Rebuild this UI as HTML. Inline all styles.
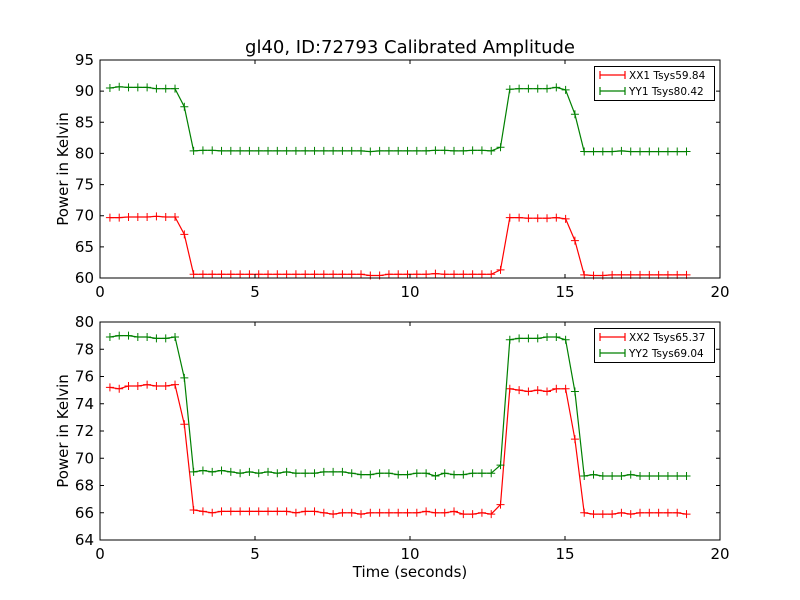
<!DOCTYPE html>
<html><head><meta charset="utf-8"><style>body{margin:0;background:#fff}svg{display:block;font-family:"DejaVu Sans","Liberation Sans",sans-serif}</style></head>
<body>
<svg id="c" width="800" height="600"></svg>
<script>
const xx1 = [69.7,69.7,69.8,69.8,69.8,69.9,69.8,69.8,67.0,60.6,60.6,60.6,60.6,60.6,60.6,60.6,60.6,60.6,60.6,60.6,60.6,60.6,60.6,60.6,60.6,60.6,60.6,60.6,60.4,60.4,60.6,60.6,60.6,60.6,60.6,60.7,60.6,60.6,60.6,60.6,60.6,60.6,61.3,69.7,69.7,69.6,69.6,69.6,69.7,69.5,66.0,60.5,60.4,60.4,60.5,60.5,60.5,60.5,60.5,60.5,60.5,60.5,60.5];
const yy1 = [90.5,90.7,90.6,90.6,90.6,90.4,90.4,90.4,87.5,80.4,80.5,80.5,80.4,80.4,80.4,80.4,80.4,80.4,80.4,80.4,80.4,80.4,80.4,80.4,80.4,80.4,80.4,80.4,80.3,80.4,80.4,80.4,80.4,80.4,80.4,80.5,80.5,80.4,80.4,80.5,80.5,80.4,81.0,90.3,90.4,90.4,90.4,90.4,90.6,90.2,86.3,80.3,80.3,80.3,80.3,80.4,80.3,80.3,80.3,80.3,80.3,80.3,80.3];
const xx2 = [75.2,75.1,75.3,75.3,75.4,75.3,75.3,75.4,72.5,66.2,66.1,66.0,66.1,66.1,66.1,66.1,66.1,66.1,66.1,66.1,66.0,66.1,66.1,66.0,65.9,66.0,66.0,65.9,66.0,66.0,66.0,66.0,66.0,66.0,66.1,66.0,66.0,66.1,65.9,65.9,66.0,65.9,66.6,75.1,75.0,74.9,75.0,74.9,75.1,75.1,71.4,66.0,65.9,65.9,65.9,66.0,65.9,66.0,66.0,66.0,66.0,66.0,65.9];
const yy2 = [78.9,79.0,79.0,78.9,78.9,78.8,78.8,78.9,75.9,69.0,69.1,69.0,69.1,69.0,68.9,69.0,68.9,69.0,68.9,69.0,68.9,68.9,68.9,69.0,69.0,69.0,68.9,68.8,68.8,68.9,68.9,68.8,68.8,68.9,68.9,68.7,68.9,68.8,68.8,68.9,68.9,68.9,69.5,78.7,78.8,78.8,78.8,78.9,78.9,78.7,74.9,68.7,68.8,68.7,68.7,68.7,68.8,68.7,68.7,68.7,68.7,68.7,68.7];
const times = xx1.map((_, i) => +(0.32 + 0.3 * i).toFixed(2));
const xTicks = [0,5,10,15,20];
const yTicksTop = [60,65,70,75,80,85,90,95];
const yTicksBot = [64,66,68,70,72,74,76,78,80];
const legTop = ["XX1 Tsys59.84","YY1 Tsys80.42"];
const legBot = ["XX2 Tsys65.37","YY2 Tsys69.04"];

const svg = document.getElementById('c');
const NS = 'http://www.w3.org/2000/svg';
function mk(tag, attrs, parent, name) {
  const e = document.createElementNS(NS, tag);
  for (const k in attrs) e.setAttribute(k, attrs[k]);
  
  
  (parent || svg).appendChild(e);
  return e;
}
function panel(top, bot, ymin, ymax, yTicks, sA, sB, leg, pname) {
  const L = 100, R = 720;
  const g = mk('g', {}, svg, pname);
  const sx = v => L + (v - 0) / 20 * (R - L);
  const sy = v => bot - (v - ymin) / (ymax - ymin) * (bot - top);
  const series = [[sA, '#ff0000', 'xx'], [sB, '#008000', 'yy']];
  series.forEach(([d, col, nm]) => {
    const pts = d.map((v, i) => sx(times[i]).toFixed(1) + ',' + sy(v).toFixed(1)).join(' ');
    mk('polyline', {points: pts, fill: 'none', stroke: col, 'stroke-width': 1.2}, g, nm + '-line');
    d.forEach((v, i) => {
      const x = sx(times[i]), y = sy(v);
      mk('path', {d: `M${x-4},${y}H${x+4}M${x},${y-4}V${y+4}`, stroke: col, 'stroke-width': 1}, g, nm + '-marker');
    });
  });
  mk('rect', {x: L, y: top, width: R - L, height: bot - top, fill: 'none', stroke: '#000', 'stroke-width': 1}, g, 'plot-frame');
  xTicks.forEach(t => {
    const x = sx(t);
    mk('path', {d: `M${x},${bot}V${bot-4}M${x},${top}V${top+4}`, stroke: '#000'}, g, 'x-tick');
    const tx = mk('text', {x: x, y: bot + 19, 'text-anchor': 'middle', 'font-size': 15}, g, 'x-tick-label');
    tx.textContent = t;
  });
  yTicks.forEach(t => {
    const y = sy(t);
    mk('path', {d: `M${L},${y}H${L+4}M${R},${y}H${R-4}`, stroke: '#000'}, g, 'y-tick');
    const tx = mk('text', {x: L - 6, y: y + 5, 'text-anchor': 'end', 'font-size': 15}, g, 'y-tick-label');
    tx.textContent = t;
  });
  const yl = mk('text', {x: 0, y: 0, 'text-anchor': 'middle', 'font-size': 15, transform: `translate(68,${(top+bot)/2}) rotate(-90)`}, g, 'y-axis-title');
  yl.textContent = 'Power in Kelvin';
  const lg = mk('g', {}, g, 'legend');
  mk('rect', {x: 594.5, y: top + 6.5, width: 120, height: 34, fill: '#fff', stroke: '#000'}, lg, 'legend-box');
  leg.forEach((s, i) => {
    const y = top + 15 + i * 16, col = i ? '#008000' : '#ff0000';
    mk('path', {d: `M600,${y}H625M${612.5-4},${y}H${612.5+4}M600,${y-4}V${y+4}M625,${y-4}V${y+4}`, stroke: col, 'stroke-width': 1.2}, lg, 'legend-swatch');
    const tx = mk('text', {x: 629, y: y + 4, 'font-size': 10.5}, lg, 'legend-entry');
    tx.textContent = s;
  });
}
const title = mk('text', {x: 410, y: 53, 'text-anchor': 'middle', 'font-size': 18}, svg, 'chart-title');
title.textContent = 'gl40, ID:72793 Calibrated Amplitude';
panel(60, 278, 60, 95, yTicksTop, xx1, yy1, legTop, 'top-panel');
panel(322, 540, 64, 80, yTicksBot, xx2, yy2, legBot, 'bottom-panel');
const xl = mk('text', {x: 410, y: 577, 'text-anchor': 'middle', 'font-size': 15}, svg, 'x-axis-title');
xl.textContent = 'Time (seconds)';
</script>
</body></html>
